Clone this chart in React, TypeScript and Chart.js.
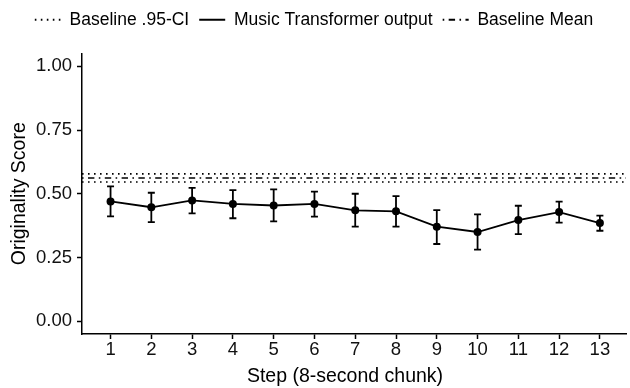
import React, { useEffect, useRef } from "react";
import { Chart, registerables } from "chart.js";

Chart.register(...registerables);

// ---- data ----
const steps = [1, 2, 3, 4, 5, 6, 7, 8, 9, 10, 11, 12, 13];
const meanScore = [0.470, 0.447, 0.474, 0.460, 0.454, 0.460, 0.435, 0.431, 0.371, 0.350, 0.397, 0.428, 0.385];
const ciUpper = [0.529, 0.504, 0.523, 0.514, 0.517, 0.508, 0.500, 0.491, 0.436, 0.419, 0.453, 0.469, 0.414];
const ciLower = [0.411, 0.389, 0.423, 0.404, 0.392, 0.410, 0.371, 0.371, 0.303, 0.281, 0.342, 0.387, 0.355];
const baselineMean = 0.562;
const baselineCIUpper = 0.578;
const baselineCILower = 0.546;
const yTickValues = [0, 0.25, 0.5, 0.75, 1];
const xLimits = [0.3, 13.64];
const yLimits = [-0.05, 1.05];

const legendLabels = ["Baseline .95-CI", "Music Transformer output", "Baseline Mean"];
const xTitle = "Step (8-second chunk)";
const yTitle = "Originality Score";

const FONT = "'Liberation Sans', Arial, Helvetica, sans-serif";
const DOTTED = [1.6, 4.4];
const DOTDASH = [1.6, 4.4, 6.4, 4.4];
const REF_LW = 1.6;

export default function App() {
  const canvasRef = useRef<HTMLCanvasElement | null>(null);

  useEffect(() => {
    const canvas = canvasRef.current;
    if (!canvas) return;

    const hLine = (v: number) => [
      { x: xLimits[0], y: v },
      { x: xLimits[1], y: v },
    ];

    const errorBars = {
      id: "errorBars",
      beforeDatasetsDraw(chart: any) {
        const { ctx, scales } = chart;
        const xs = scales.x;
        const ys = scales.y;
        ctx.save();
        ctx.strokeStyle = "#000";
        ctx.lineWidth = 1.8;
        ctx.setLineDash([]);
        ctx.lineCap = "butt";
        const cap = 3.5;
        steps.forEach((s, i) => {
          const px = xs.getPixelForValue(s);
          const yu = ys.getPixelForValue(ciUpper[i]);
          const yl = ys.getPixelForValue(ciLower[i]);
          ctx.beginPath();
          ctx.moveTo(px, yu);
          ctx.lineTo(px, yl);
          ctx.moveTo(px - cap, yu);
          ctx.lineTo(px + cap, yu);
          ctx.moveTo(px - cap, yl);
          ctx.lineTo(px + cap, yl);
          ctx.stroke();
        });
        ctx.restore();
      },
    };

    const legendSpacer = {
      id: "legendSpacer",
      beforeInit(chart: any) {
        const legend = chart.legend;
        if (!legend) return;
        const origFit = legend.fit;
        legend.fit = function () {
          origFit.bind(legend)();
          this.height += 15;
        };
      },
    };

    const xAxisTitle = {
      id: "xAxisTitle",
      afterDraw(chart: any) {
        const { ctx, chartArea } = chart;
        ctx.save();
        ctx.font = `19.5px ${FONT}`;
        ctx.fillStyle = "#000";
        ctx.textAlign = "center";
        ctx.textBaseline = "middle";
        ctx.fillText(xTitle, (chartArea.left + chartArea.right) / 2 - 9, chart.height - 11.5);
        ctx.restore();
      },
    };

    const chart = new Chart(canvas, {
      type: "line",
      data: {
        datasets: [
          {
            label: legendLabels[0],
            data: hLine(baselineCIUpper),
            borderColor: "#000",
            borderWidth: REF_LW,
            borderDash: DOTTED,
            pointRadius: 0,
            fill: false,
          },
          {
            label: legendLabels[0] + " lower",
            data: hLine(baselineCILower),
            borderColor: "#000",
            borderWidth: REF_LW,
            borderDash: DOTTED,
            pointRadius: 0,
            fill: false,
          },
          {
            label: legendLabels[2],
            data: hLine(baselineMean),
            borderColor: "#000",
            borderWidth: REF_LW,
            borderDash: DOTDASH,
            pointRadius: 0,
            fill: false,
          },
          {
            label: legendLabels[1],
            data: steps.map((s, i) => ({ x: s, y: meanScore[i] })),
            borderColor: "#000",
            borderWidth: 1.8,
            pointRadius: 4,
            pointBackgroundColor: "#000",
            pointBorderColor: "#000",
            pointBorderWidth: 0,
            fill: false,
          },
        ],
      },
      options: {
        animation: false,
        responsive: true,
        maintainAspectRatio: false,
        layout: { padding: { top: 1, left: 0, right: 2, bottom: 0 } },
        plugins: {
          tooltip: { enabled: false },
          legend: {
            display: true,
            position: "top",
            align: "center",
            labels: {
              font: { size: 17.5, family: FONT },
              color: "#000",
              padding: 10,
              usePointStyle: true,
              pointStyleWidth: 26,
              generateLabels: () => [
                {
                  text: legendLabels[0],
                  fillStyle: "#000",
                  strokeStyle: "#000",
                  lineWidth: 1.8,
                  lineDash: DOTTED,
                  lineCap: "butt",
                  pointStyle: "line",
                  hidden: false,
                  datasetIndex: 0,
                },
                {
                  text: legendLabels[1],
                  fillStyle: "#000",
                  strokeStyle: "#000",
                  lineWidth: 2,
                  lineDash: [],
                  lineCap: "butt",
                  pointStyle: "line",
                  hidden: false,
                  datasetIndex: 3,
                },
                {
                  text: legendLabels[2],
                  fillStyle: "#000",
                  strokeStyle: "#000",
                  lineWidth: 1.8,
                  lineDash: DOTDASH,
                  lineCap: "butt",
                  pointStyle: "line",
                  hidden: false,
                  datasetIndex: 2,
                },
              ],
            },
          },
        },
        scales: {
          x: {
            type: "linear",
            min: xLimits[0],
            max: xLimits[1],
            afterBuildTicks: (scale: any) => {
              scale.ticks = steps.map((v) => ({ value: v }));
            },
            afterFit: (scale: any) => {
              scale.height = 54;
            },
            ticks: {
              font: { size: 18.5, family: FONT },
              color: "#111",
              padding: 0,
              maxRotation: 0,
              autoSkip: false,
              callback: (v: any) => String(v),
            },
            grid: {
              display: true,
              drawOnChartArea: false,
              drawTicks: true,
              tickLength: 5,
              tickColor: "#000",
              tickWidth: 1.5,
              color: "#000",
            },
            border: { display: true, color: "#000", width: 1.5 },
            title: { display: false },
          },
          y: {
            type: "linear",
            min: yLimits[0],
            max: yLimits[1],
            afterBuildTicks: (scale: any) => {
              scale.ticks = yTickValues.map((v) => ({ value: v }));
            },
            afterFit: (scale: any) => {
              scale.width = 82;
            },
            ticks: {
              font: { size: 18.5, family: FONT },
              color: "#111",
              padding: 5,
              autoSkip: false,
              callback: (v: any) => Number(v).toFixed(2),
            },
            grid: {
              display: true,
              drawOnChartArea: false,
              drawTicks: true,
              tickLength: 5,
              tickColor: "#000",
              tickWidth: 1.5,
              color: "#000",
            },
            border: { display: true, color: "#000", width: 1.5 },
            title: {
              display: true,
              text: yTitle,
              color: "#000",
              font: { size: 19.5, family: FONT },
              padding: { top: 8, bottom: 0 },
            },
          },
        },
      } as any,
      plugins: [legendSpacer, errorBars, xAxisTitle],
    });

    return () => chart.destroy();
  }, []);

  return (
    <div style={{ position: "absolute", left: 0, top: 0, width: 630, height: 388, background: "#fff" }}>
      <canvas ref={canvasRef} />
    </div>
  );
}
